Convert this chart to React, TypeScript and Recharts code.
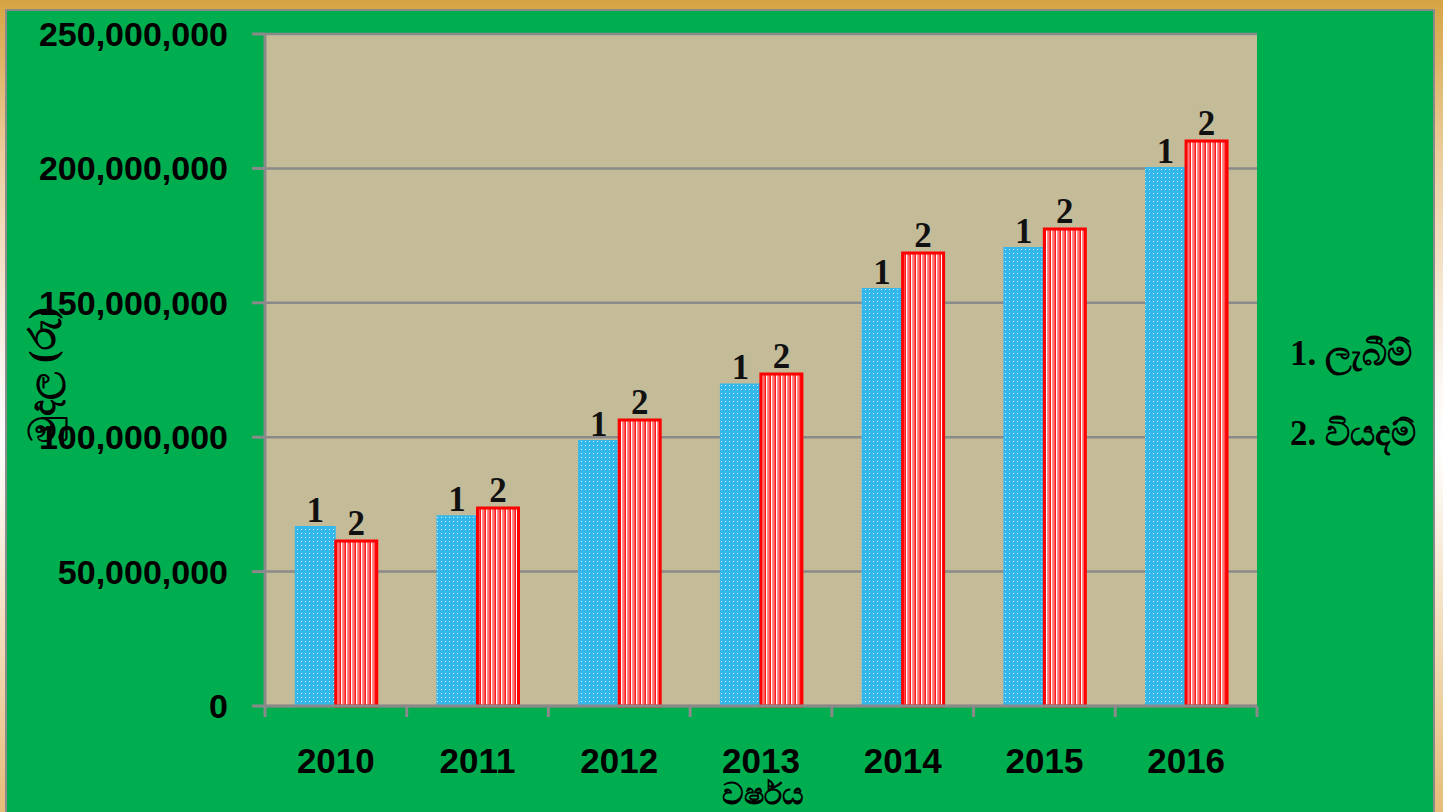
import React from 'react';
import { BarChart, Bar, XAxis, YAxis, CartesianGrid, LabelList } from 'recharts';

const years = ['2010', '2011', '2012', '2013', '2014', '2015', '2016'];
const income = [67000000, 71000000, 99000000, 120000000, 155500000, 170800000, 200500000];
const expenses = [61400000, 73700000, 106400000, 123500000, 168500000, 177500000, 210200000];
const yTicks = [0, 50000000, 100000000, 150000000, 200000000, 250000000];
const legendItems = ['1. ලැබීම්', '2. වියදම්'];

const chartData = years.map((year, i) => ({ year, income: income[i], expenses: expenses[i] }));

const GRAY = '#8a8a8a';
const SANS = '"Liberation Sans", Arial, sans-serif';
const SERIF = '"Liberation Serif", "Times New Roman", serif';

const XTick = (props: any) => {
  const { x, y, payload, width, visibleTicksCount, index } = props;
  const band = width / visibleTicksCount;
  return (
    <g>
      <line x1={x - band / 2} x2={x - band / 2} y1={y} y2={y + 11} stroke={GRAY} strokeWidth={3} />
      {index === visibleTicksCount - 1 && (
        <line x1={x + band / 2} x2={x + band / 2} y1={y} y2={y + 11} stroke={GRAY} strokeWidth={3} />
      )}
      <text x={x} y={y + 67} textAnchor="middle" fontFamily={SANS} fontWeight="bold" fontSize={35} fill="#000">
        {payload.value}
      </text>
    </g>
  );
};

export default function App() {
  return (
    <div
      style={{
        position: 'relative',
        width: 1443,
        height: 812,
        overflow: 'hidden',
        background: 'linear-gradient(to bottom, #d6a443 0%, #eccfa0 20%, #fbf5ee 45%, #ffffff 55%, #e6bc78 100%)',
      }}
    >
      <style>{'body{margin:0}'}</style>
      <div
        style={{
          position: 'absolute',
          left: 5,
          top: 9,
          width: 1426,
          height: 810,
          background: '#00ae50',
          border: `2px solid ${GRAY}`,
        }}
      />
      <div style={{ position: 'absolute', left: 0, top: 0 }}>
        <BarChart
          width={1443}
          height={812}
          data={chartData}
          margin={{ top: 34, right: 186, bottom: 0, left: 0 }}
          barCategoryGap="21%"
          barGap={0}
        >
          <defs>
            <pattern id="dots" width="4" height="4" patternUnits="userSpaceOnUse">
              <rect width="4" height="4" fill="#33b8ee" />
              <rect x="1" y="1" width="1" height="1" fill="#d8f2ff" />
            </pattern>
            <pattern id="stripes" width="5" height="4" patternUnits="userSpaceOnUse">
              <rect width="5" height="4" fill="#ff1a1a" />
              <rect x="1" width="1.5" height="4" fill="#ffffff" />
              <rect x="3.5" width="0.8" height="4" fill="#ffd0d0" />
            </pattern>
          </defs>
          <CartesianGrid vertical={false} fill="#c4bc99" stroke={GRAY} strokeWidth={2.5} />
          <XAxis
            dataKey="year"
            height={106}
            axisLine={{ stroke: GRAY, strokeWidth: 3 }}
            tickLine={false}
            tickSize={0}
            tickMargin={0}
            tick={<XTick />}
            interval={0}
          />
          <YAxis
            width={265}
            domain={[0, 250000000]}
            ticks={yTicks}
            interval={0}
            axisLine={{ stroke: GRAY, strokeWidth: 3 }}
            tickLine={{ stroke: GRAY, strokeWidth: 3 }}
            tickSize={13}
            tickMargin={24}
            tickFormatter={(v: number) => v.toLocaleString('en-US')}
            tick={{ fontFamily: SANS, fontWeight: 'bold', fontSize: 34, fill: '#000' }}
            label={{
              value: 'මුදල (රු)',
              angle: -90,
              position: 'insideLeft',
              offset: 0,
              dx: 42,
              dy: 5,
              style: { fontFamily: SERIF, fontWeight: 'bold', fontSize: 37, fill: '#000', textAnchor: 'middle' },
            }}
          />
          <Bar dataKey="income" fill="url(#dots)" isAnimationActive={false}>
            <LabelList
              dataKey="income"
              position="top"
              offset={4}
              formatter={() => '1'}
              style={{ fontFamily: SERIF, fontWeight: 'bold', fontSize: 35, fill: '#111' }}
            />
          </Bar>
          <Bar dataKey="expenses" fill="url(#stripes)" stroke="#ff0000" strokeWidth={3} isAnimationActive={false}>
            <LabelList
              dataKey="expenses"
              position="top"
              offset={6}
              formatter={() => '2'}
              style={{ fontFamily: SERIF, fontWeight: 'bold', fontSize: 35, fill: '#111' }}
            />
          </Bar>
        </BarChart>
      </div>
      <div
        style={{
          position: 'absolute',
          left: 1290,
          top: 314,
          fontFamily: SERIF,
          fontWeight: 'bold',
          fontSize: 35,
          color: '#000',
          lineHeight: '80px',
          whiteSpace: 'nowrap',
        }}
      >
        {legendItems.map((t) => (
          <div key={t}>{t}</div>
        ))}
      </div>
      <div
        style={{
          position: 'absolute',
          left: 0,
          width: 1443,
          top: 777,
          textAlign: 'center',
          paddingLeft: 82,
          boxSizing: 'border-box',
          fontFamily: SERIF,
          fontWeight: 'bold',
          fontSize: 30,
          lineHeight: '34px',
          color: '#000',
        }}
      >
        වර්ෂය
      </div>
    </div>
  );
}
